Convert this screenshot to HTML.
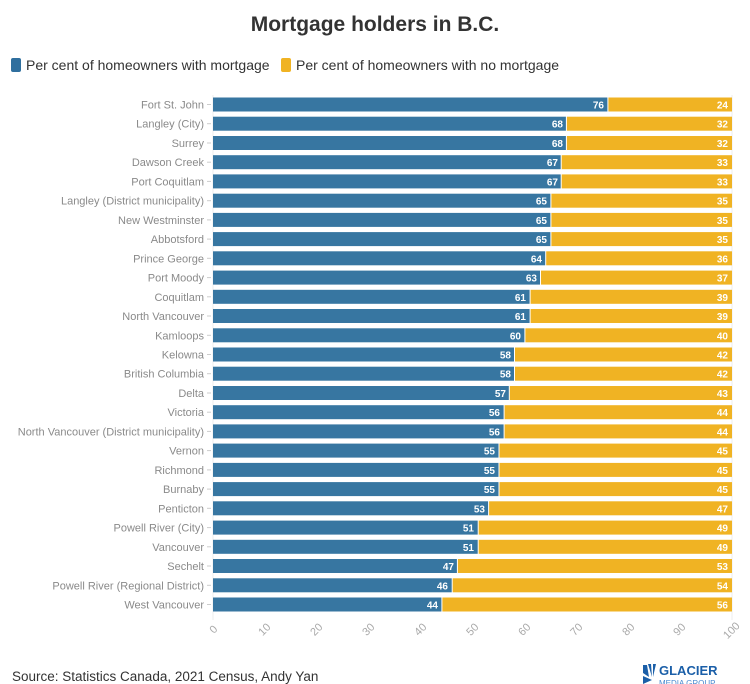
<!DOCTYPE html>
<html><head><meta charset="utf-8"><style>
html,body{margin:0;padding:0;background:#fff;width:750px;height:684px;overflow:hidden}
svg{display:block}
.l{font-family:"Liberation Sans",sans-serif;font-size:11px;fill:#8a8a8a;text-anchor:end}
.b{font-family:"Liberation Sans",sans-serif;font-size:10px;font-weight:bold;fill:#fff;text-anchor:end}
.t{font-family:"Liberation Sans",sans-serif;font-size:11px;fill:#aaa;text-anchor:middle}
</style></head><body>
<svg width="750" height="684" xmlns="http://www.w3.org/2000/svg">
<text x="375" y="31" text-anchor="middle" font-family="Liberation Sans,sans-serif" font-size="21" font-weight="bold" fill="#333">Mortgage holders in B.C.</text>
<rect x="11" y="58" width="10" height="14" rx="2" fill="#2f6f9e"/>
<text x="26" y="70" font-family="Liberation Sans,sans-serif" font-size="14" fill="#333">Per cent of homeowners with mortgage</text>
<rect x="281" y="58" width="10" height="14" rx="2" fill="#f0b323"/>
<text x="296" y="70" font-family="Liberation Sans,sans-serif" font-size="14" fill="#333">Per cent of homeowners with no mortgage</text>
<g stroke="#eee" stroke-width="1">
<line x1="213" y1="95" x2="213" y2="620"/><line x1="732" y1="95" x2="732" y2="620"/>
</g>
<g id="rows">
<g transform="translate(0,97.5)"><line x1="207" y1="7" x2="211" y2="7" stroke="#ccc"/><text class="l" x="204" y="11">Fort St. John</text><rect x="213" width="394.4" height="14" fill="#3776a1"/><rect x="608.4" width="123.6" height="14" fill="#f0b323"/><text class="b" x="604" y="11">76</text><text class="b" x="728" y="11">24</text></g>
<g transform="translate(0,116.7)"><line x1="207" y1="7" x2="211" y2="7" stroke="#ccc"/><text class="l" x="204" y="11">Langley (City)</text><rect x="213" width="352.9" height="14" fill="#3776a1"/><rect x="566.9" width="165.1" height="14" fill="#f0b323"/><text class="b" x="563" y="11">68</text><text class="b" x="728" y="11">32</text></g>
<g transform="translate(0,136)"><line x1="207" y1="7" x2="211" y2="7" stroke="#ccc"/><text class="l" x="204" y="11">Surrey</text><rect x="213" width="352.9" height="14" fill="#3776a1"/><rect x="566.9" width="165.1" height="14" fill="#f0b323"/><text class="b" x="563" y="11">68</text><text class="b" x="728" y="11">32</text></g>
<g transform="translate(0,155.2)"><line x1="207" y1="7" x2="211" y2="7" stroke="#ccc"/><text class="l" x="204" y="11">Dawson Creek</text><rect x="213" width="347.7" height="14" fill="#3776a1"/><rect x="561.7" width="170.3" height="14" fill="#f0b323"/><text class="b" x="558" y="11">67</text><text class="b" x="728" y="11">33</text></g>
<g transform="translate(0,174.4)"><line x1="207" y1="7" x2="211" y2="7" stroke="#ccc"/><text class="l" x="204" y="11">Port Coquitlam</text><rect x="213" width="347.7" height="14" fill="#3776a1"/><rect x="561.7" width="170.3" height="14" fill="#f0b323"/><text class="b" x="558" y="11">67</text><text class="b" x="728" y="11">33</text></g>
<g transform="translate(0,193.7)"><line x1="207" y1="7" x2="211" y2="7" stroke="#ccc"/><text class="l" x="204" y="11">Langley (District municipality)</text><rect x="213" width="337.4" height="14" fill="#3776a1"/><rect x="551.4" width="180.6" height="14" fill="#f0b323"/><text class="b" x="547" y="11">65</text><text class="b" x="728" y="11">35</text></g>
<g transform="translate(0,212.9)"><line x1="207" y1="7" x2="211" y2="7" stroke="#ccc"/><text class="l" x="204" y="11">New Westminster</text><rect x="213" width="337.4" height="14" fill="#3776a1"/><rect x="551.4" width="180.6" height="14" fill="#f0b323"/><text class="b" x="547" y="11">65</text><text class="b" x="728" y="11">35</text></g>
<g transform="translate(0,232.1)"><line x1="207" y1="7" x2="211" y2="7" stroke="#ccc"/><text class="l" x="204" y="11">Abbotsford</text><rect x="213" width="337.4" height="14" fill="#3776a1"/><rect x="551.4" width="180.6" height="14" fill="#f0b323"/><text class="b" x="547" y="11">65</text><text class="b" x="728" y="11">35</text></g>
<g transform="translate(0,251.3)"><line x1="207" y1="7" x2="211" y2="7" stroke="#ccc"/><text class="l" x="204" y="11">Prince George</text><rect x="213" width="332.2" height="14" fill="#3776a1"/><rect x="546.2" width="185.8" height="14" fill="#f0b323"/><text class="b" x="542" y="11">64</text><text class="b" x="728" y="11">36</text></g>
<g transform="translate(0,270.6)"><line x1="207" y1="7" x2="211" y2="7" stroke="#ccc"/><text class="l" x="204" y="11">Port Moody</text><rect x="213" width="327" height="14" fill="#3776a1"/><rect x="541" width="191" height="14" fill="#f0b323"/><text class="b" x="537" y="11">63</text><text class="b" x="728" y="11">37</text></g>
<g transform="translate(0,289.8)"><line x1="207" y1="7" x2="211" y2="7" stroke="#ccc"/><text class="l" x="204" y="11">Coquitlam</text><rect x="213" width="316.6" height="14" fill="#3776a1"/><rect x="530.6" width="201.4" height="14" fill="#f0b323"/><text class="b" x="526" y="11">61</text><text class="b" x="728" y="11">39</text></g>
<g transform="translate(0,309)"><line x1="207" y1="7" x2="211" y2="7" stroke="#ccc"/><text class="l" x="204" y="11">North Vancouver</text><rect x="213" width="316.6" height="14" fill="#3776a1"/><rect x="530.6" width="201.4" height="14" fill="#f0b323"/><text class="b" x="526" y="11">61</text><text class="b" x="728" y="11">39</text></g>
<g transform="translate(0,328.3)"><line x1="207" y1="7" x2="211" y2="7" stroke="#ccc"/><text class="l" x="204" y="11">Kamloops</text><rect x="213" width="311.4" height="14" fill="#3776a1"/><rect x="525.4" width="206.6" height="14" fill="#f0b323"/><text class="b" x="521" y="11">60</text><text class="b" x="728" y="11">40</text></g>
<g transform="translate(0,347.5)"><line x1="207" y1="7" x2="211" y2="7" stroke="#ccc"/><text class="l" x="204" y="11">Kelowna</text><rect x="213" width="301" height="14" fill="#3776a1"/><rect x="515" width="217" height="14" fill="#f0b323"/><text class="b" x="511" y="11">58</text><text class="b" x="728" y="11">42</text></g>
<g transform="translate(0,366.7)"><line x1="207" y1="7" x2="211" y2="7" stroke="#ccc"/><text class="l" x="204" y="11">British Columbia</text><rect x="213" width="301" height="14" fill="#3776a1"/><rect x="515" width="217" height="14" fill="#f0b323"/><text class="b" x="511" y="11">58</text><text class="b" x="728" y="11">42</text></g>
<g transform="translate(0,386)"><line x1="207" y1="7" x2="211" y2="7" stroke="#ccc"/><text class="l" x="204" y="11">Delta</text><rect x="213" width="295.8" height="14" fill="#3776a1"/><rect x="509.8" width="222.2" height="14" fill="#f0b323"/><text class="b" x="506" y="11">57</text><text class="b" x="728" y="11">43</text></g>
<g transform="translate(0,405.2)"><line x1="207" y1="7" x2="211" y2="7" stroke="#ccc"/><text class="l" x="204" y="11">Victoria</text><rect x="213" width="290.6" height="14" fill="#3776a1"/><rect x="504.6" width="227.4" height="14" fill="#f0b323"/><text class="b" x="500" y="11">56</text><text class="b" x="728" y="11">44</text></g>
<g transform="translate(0,424.4)"><line x1="207" y1="7" x2="211" y2="7" stroke="#ccc"/><text class="l" x="204" y="11">North Vancouver (District municipality)</text><rect x="213" width="290.6" height="14" fill="#3776a1"/><rect x="504.6" width="227.4" height="14" fill="#f0b323"/><text class="b" x="500" y="11">56</text><text class="b" x="728" y="11">44</text></g>
<g transform="translate(0,443.6)"><line x1="207" y1="7" x2="211" y2="7" stroke="#ccc"/><text class="l" x="204" y="11">Vernon</text><rect x="213" width="285.5" height="14" fill="#3776a1"/><rect x="499.5" width="232.5" height="14" fill="#f0b323"/><text class="b" x="495" y="11">55</text><text class="b" x="728" y="11">45</text></g>
<g transform="translate(0,462.9)"><line x1="207" y1="7" x2="211" y2="7" stroke="#ccc"/><text class="l" x="204" y="11">Richmond</text><rect x="213" width="285.5" height="14" fill="#3776a1"/><rect x="499.5" width="232.5" height="14" fill="#f0b323"/><text class="b" x="495" y="11">55</text><text class="b" x="728" y="11">45</text></g>
<g transform="translate(0,482.1)"><line x1="207" y1="7" x2="211" y2="7" stroke="#ccc"/><text class="l" x="204" y="11">Burnaby</text><rect x="213" width="285.5" height="14" fill="#3776a1"/><rect x="499.5" width="232.5" height="14" fill="#f0b323"/><text class="b" x="495" y="11">55</text><text class="b" x="728" y="11">45</text></g>
<g transform="translate(0,501.3)"><line x1="207" y1="7" x2="211" y2="7" stroke="#ccc"/><text class="l" x="204" y="11">Penticton</text><rect x="213" width="275.1" height="14" fill="#3776a1"/><rect x="489.1" width="242.9" height="14" fill="#f0b323"/><text class="b" x="485" y="11">53</text><text class="b" x="728" y="11">47</text></g>
<g transform="translate(0,520.6)"><line x1="207" y1="7" x2="211" y2="7" stroke="#ccc"/><text class="l" x="204" y="11">Powell River (City)</text><rect x="213" width="264.7" height="14" fill="#3776a1"/><rect x="478.7" width="253.3" height="14" fill="#f0b323"/><text class="b" x="474" y="11">51</text><text class="b" x="728" y="11">49</text></g>
<g transform="translate(0,539.8)"><line x1="207" y1="7" x2="211" y2="7" stroke="#ccc"/><text class="l" x="204" y="11">Vancouver</text><rect x="213" width="264.7" height="14" fill="#3776a1"/><rect x="478.7" width="253.3" height="14" fill="#f0b323"/><text class="b" x="474" y="11">51</text><text class="b" x="728" y="11">49</text></g>
<g transform="translate(0,559)"><line x1="207" y1="7" x2="211" y2="7" stroke="#ccc"/><text class="l" x="204" y="11">Sechelt</text><rect x="213" width="243.9" height="14" fill="#3776a1"/><rect x="457.9" width="274.1" height="14" fill="#f0b323"/><text class="b" x="454" y="11">47</text><text class="b" x="728" y="11">53</text></g>
<g transform="translate(0,578.3)"><line x1="207" y1="7" x2="211" y2="7" stroke="#ccc"/><text class="l" x="204" y="11">Powell River (Regional District)</text><rect x="213" width="238.7" height="14" fill="#3776a1"/><rect x="452.7" width="279.3" height="14" fill="#f0b323"/><text class="b" x="448" y="11">46</text><text class="b" x="728" y="11">54</text></g>
<g transform="translate(0,597.5)"><line x1="207" y1="7" x2="211" y2="7" stroke="#ccc"/><text class="l" x="204" y="11">West Vancouver</text><rect x="213" width="228.4" height="14" fill="#3776a1"/><rect x="442.4" width="289.6" height="14" fill="#f0b323"/><text class="b" x="438" y="11">44</text><text class="b" x="728" y="11">56</text></g>
</g>
<g class="t">
<text transform="translate(216,632) rotate(-45)">0</text>
<text transform="translate(267,632) rotate(-45)">10</text>
<text transform="translate(319,632) rotate(-45)">20</text>
<text transform="translate(371,632) rotate(-45)">30</text>
<text transform="translate(423,632) rotate(-45)">40</text>
<text transform="translate(475,632) rotate(-45)">50</text>
<text transform="translate(527,632) rotate(-45)">60</text>
<text transform="translate(579,632) rotate(-45)">70</text>
<text transform="translate(631,632) rotate(-45)">80</text>
<text transform="translate(682,632) rotate(-45)">90</text>
<text transform="translate(734,633) rotate(-45)">100</text>
</g>
<text x="12" y="681" font-family="Liberation Sans,sans-serif" font-size="13.5" fill="#333">Source: Statistics Canada, 2021 Census, Andy Yan</text>
<g fill="#1b5fa8">
<path d="M643 665 l4 0 l2 12 l-6 -4z M648 664 l3 0 l1 13z M653 664 l3 0 l-3 13z"/>
<path d="M643 676 l9 4 l-9 4z"/>
<text x="659" y="675" font-family="Liberation Sans,sans-serif" font-size="13" font-weight="bold">GLACIER</text>
<text x="659" y="686" font-family="Liberation Sans,sans-serif" font-size="8" fill="#4a8ad0">MEDIA GROUP</text>
</g>
</svg>
</body></html>
